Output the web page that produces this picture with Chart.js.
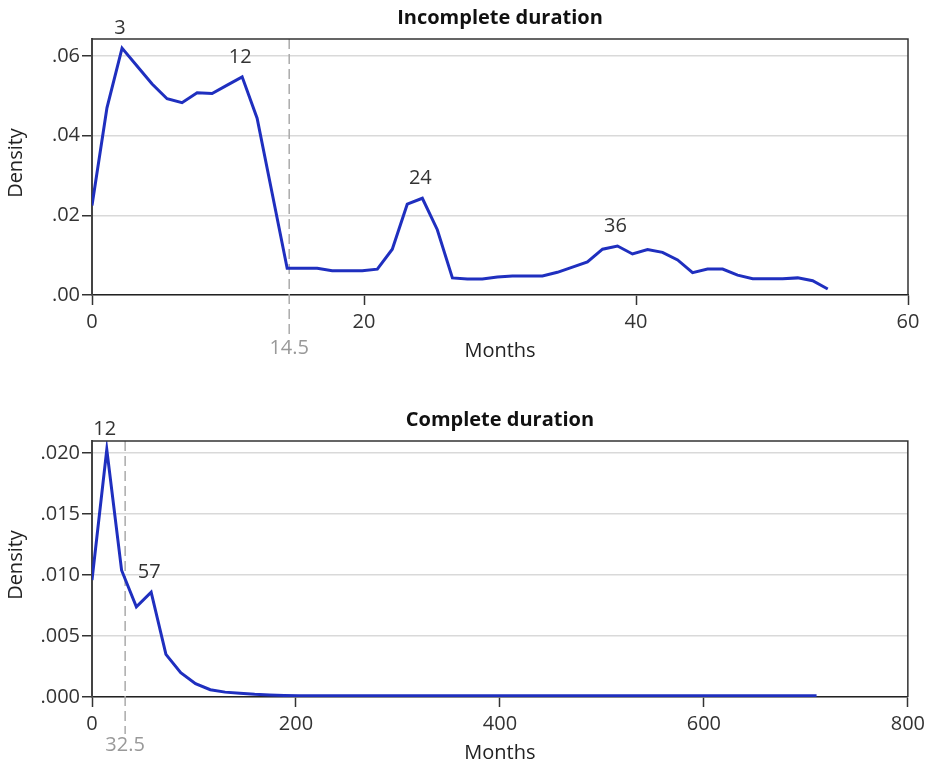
<!DOCTYPE html>
<html>
<head>
<meta charset="utf-8">
<script src="https://cdn.jsdelivr.net/npm/chart.js@4.4.0/dist/chart.umd.min.js"></script>
<style>
  body { margin: 0; background: #fff; }
  canvas { position: absolute; left: 0; }
</style>
</head>
<body>
<canvas id="incompleta" width="930" height="402" style="top:0"></canvas>
<canvas id="completa" width="930" height="364" style="top:402px"></canvas>
<script>
// Incomplete duration (months / density)
const mesesIncompleta = [0, 1.10, 2.21, 3.31, 4.42, 5.52, 6.62, 7.73, 8.83, 9.94,
  11.04, 12.14, 13.25, 14.35, 15.46, 16.56, 17.66, 18.77, 19.87, 20.98,
  22.08, 23.18, 24.29, 25.39, 26.50, 27.60, 28.70, 29.81, 30.91, 32.02,
  33.12, 34.22, 35.33, 36.43, 37.54, 38.64, 39.74, 40.85, 41.95, 43.06,
  44.16, 45.26, 46.37, 47.47, 48.58, 49.68, 50.78, 51.89, 52.99, 54.10];
const densidadIncompleta = [0.0225, 0.0470, 0.0620, 0.0575, 0.0530, 0.0493, 0.0483, 0.0508, 0.0506, 0.0527,
  0.0548, 0.0444, 0.0255, 0.0067, 0.0067, 0.0067, 0.0061, 0.0061, 0.0061, 0.0065,
  0.0115, 0.0228, 0.0243, 0.0164, 0.0043, 0.0040, 0.0040, 0.0045, 0.0048, 0.0048,
  0.0048, 0.0057, 0.0070, 0.0083, 0.0115, 0.0123, 0.0103, 0.0114, 0.0107, 0.0088,
  0.0056, 0.0065, 0.0065, 0.0050, 0.0041, 0.0041, 0.0041, 0.0043, 0.0036, 0.0015];
const picosIncompleta = [2, 10, 22, 35];
const etiquetasIncompleta = ['3', '12', '24', '36'];
const medianaIncompleta = 14.5;

// Complete duration
const mesesCompleta = [0, 14.5, 29.0, 43.5, 58.0, 72.5, 87.0, 101.5, 116.0, 130.5,
  145.0, 159.5, 174.0, 188.5, 203.0, 217.5, 232.0, 246.5, 261.0, 275.5,
  290.0, 304.5, 319.0, 333.5, 348.0, 362.5, 377.0, 391.5, 406.0, 420.5,
  435.0, 449.5, 464.0, 478.5, 493.0, 507.5, 522.0, 536.5, 551.0, 565.5,
  580.0, 594.5, 609.0, 623.5, 638.0, 652.5, 667.0, 681.5, 696.0, 710.5];
const densidadCompleta = [0.0096, 0.0203, 0.0104, 0.0074, 0.0086, 0.0035, 0.0020, 0.0011, 0.0006, 0.0004,
  0.0003, 0.00022, 0.00017, 0.00013, 0.00011, 0.0001, 0.0001, 0.0001, 0.0001, 0.0001,
  0.0001, 0.0001, 0.0001, 0.0001, 0.0001, 0.0001, 0.0001, 0.0001, 0.0001, 0.0001,
  0.0001, 0.0001, 0.0001, 0.0001, 0.0001, 0.0001, 0.0001, 0.0001, 0.0001, 0.0001,
  0.0001, 0.0001, 0.0001, 0.0001, 0.0001, 0.0001, 0.0001, 0.0001, 0.0001, 0.0001];
const picosCompleta = [1, 4];
const etiquetasCompleta = ['12', '57'];
const medianaCompleta = 32.5;

Chart.defaults.font.family = '"Open Sans", "Noto Sans", sans-serif';
Chart.defaults.font.size = 20;
Chart.defaults.color = '#333';

const fuente = '"Open Sans", "Noto Sans", sans-serif';

const decoraciones = {
  id: 'decoraciones',
  beforeDatasetsDraw(chart, args, opts) {
    const { ctx, chartArea: a, scales: { x } } = chart;
    const xm = x.getPixelForValue(opts.mediana);
    ctx.save();
    ctx.strokeStyle = '#aaa';
    ctx.lineWidth = 1.5;
    ctx.setLineDash([10, 5]);
    ctx.beginPath();
    ctx.moveTo(xm, a.top);
    ctx.lineTo(xm, a.bottom + opts.bajoMediana - 11);
    ctx.stroke();
    ctx.restore();
  },
  afterDraw(chart, args, opts) {
    const { ctx, chartArea: a, scales: { x } } = chart;
    ctx.save();
    // marco arriba y derecha
    ctx.strokeStyle = '#333';
    ctx.lineWidth = 1.5;
    ctx.beginPath();
    ctx.moveTo(a.left, a.top);
    ctx.lineTo(a.right, a.top);
    ctx.lineTo(a.right, a.bottom);
    ctx.stroke();

    ctx.textAlign = 'center';
    ctx.textBaseline = 'middle';
    const centro = (a.left + a.right) / 2;

    ctx.fillStyle = '#111';
    ctx.font = 'bold 20px ' + fuente;
    ctx.fillText(opts.titulo, centro, a.top - 21);

    ctx.font = '20px ' + fuente;
    ctx.fillStyle = '#222';
    ctx.fillText('Months', centro, a.bottom + 56);
    ctx.save();
    ctx.translate(16, (a.top + a.bottom) / 2 - 4);
    ctx.rotate(-Math.PI / 2);
    ctx.fillText('Density', 0, 0);
    ctx.restore();

    ctx.fillStyle = '#999';
    ctx.fillText(String(opts.mediana), x.getPixelForValue(opts.mediana), a.bottom + opts.bajoMediana);

    const meta = chart.getDatasetMeta(0);
    ctx.fillStyle = '#333';
    opts.picos.forEach((idx, i) => {
      const p = meta.data[idx];
      ctx.fillText(opts.etiquetas[i], p.x - 2, p.y - 20);
    });
    ctx.restore();
  }
};

function crearGrafica(id, meses, densidad, cfg) {
  const canvas = document.getElementById(id);
  const alto = canvas.height;
  return new Chart(canvas, {
    type: 'line',
    data: {
      datasets: [{
        data: meses.map((m, i) => ({ x: m, y: densidad[i] })),
        borderColor: '#1f2fbf',
        borderWidth: 3,
        pointRadius: 0,
        tension: 0,
        fill: false
      }]
    },
    options: {
      responsive: false,
      animation: false,
      layout: { padding: { top: 39, right: 22, left: 0, bottom: 0 } },
      plugins: {
        legend: { display: false },
        tooltip: { enabled: false },
        decoraciones: {
          titulo: cfg.titulo,
          mediana: cfg.mediana,
          bajoMediana: cfg.bajoMediana,
          picos: cfg.picos,
          etiquetas: cfg.etiquetas
        }
      },
      scales: {
        x: {
          type: 'linear',
          min: 0,
          max: cfg.xMax,
          afterFit: s => { s.height = alto - 295; },
          ticks: { stepSize: cfg.xPaso, padding: 5, color: '#333', maxRotation: 0 },
          grid: { drawOnChartArea: false, tickLength: 10, tickColor: '#333', tickWidth: 1.5 },
          border: { color: '#222', width: 1.5 }
        },
        y: {
          min: 0,
          max: cfg.yMax,
          afterFit: s => { s.width = 92; },
          ticks: {
            stepSize: cfg.yPaso,
            includeBounds: false,
            padding: 2,
            color: '#333',
            callback: v => v.toFixed(cfg.decimales).replace(/^0/, '')
          },
          grid: { color: '#d9d9d9', lineWidth: 1.5, tickLength: 10, tickColor: '#333', tickWidth: 1.5 },
          border: { color: '#444', width: 2 }
        }
      }
    },
    plugins: [decoraciones]
  });
}

crearGrafica('incompleta', mesesIncompleta, densidadIncompleta, {
  titulo: 'Incomplete duration', xMax: 60, xPaso: 20, yMax: 0.0643, yPaso: 0.02, decimales: 2,
  mediana: medianaIncompleta, bajoMediana: 53, picos: picosIncompleta, etiquetas: etiquetasIncompleta
});
crearGrafica('completa', mesesCompleta, densidadCompleta, {
  titulo: 'Complete duration', xMax: 800, xPaso: 200, yMax: 0.021, yPaso: 0.005, decimales: 3,
  mediana: medianaCompleta, bajoMediana: 48, picos: picosCompleta, etiquetas: etiquetasCompleta
});
</script>
</body>
</html>
